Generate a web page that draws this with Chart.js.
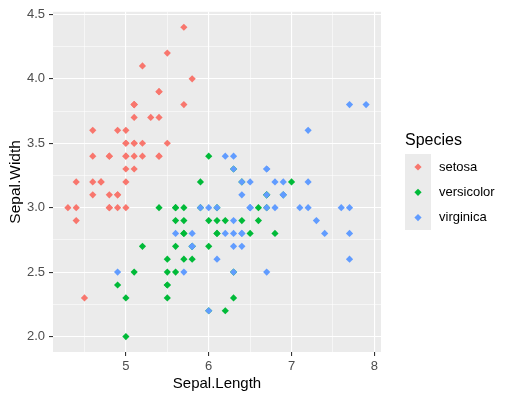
<!DOCTYPE html>
<html>
<head>
<meta charset="utf-8">
<script src="https://cdn.jsdelivr.net/npm/chart.js@4"></script>
<style>
  html, body { margin: 0; padding: 0; background: #ffffff; }
  #wrap { width: 509px; height: 402px; }
</style>
</head>
<body>
<div id="wrap"><canvas id="grafico"></canvas></div>
<script>
// iris: Sepal.Length, Sepal.Width por especie
const especies = ['setosa', 'versicolor', 'virginica'];
const colores = ['#F8766D', '#00BA38', '#619CFF'];

const setosaLength = [5.1,4.9,4.7,4.6,5.0,5.4,4.6,5.0,4.4,4.9,5.4,4.8,4.8,4.3,5.8,5.7,5.4,5.1,5.7,5.1,5.4,5.1,4.6,5.1,4.8,5.0,5.0,5.2,5.2,4.7,4.8,5.4,5.2,5.5,4.9,5.0,5.5,4.9,4.4,5.1,5.0,4.5,4.4,5.0,5.1,4.8,5.1,4.6,5.3,5.0];
const setosaWidth = [3.5,3.0,3.2,3.1,3.6,3.9,3.4,3.4,2.9,3.1,3.7,3.4,3.0,3.0,4.0,4.4,3.9,3.5,3.8,3.8,3.4,3.7,3.6,3.3,3.4,3.0,3.4,3.5,3.4,3.2,3.1,3.4,4.1,4.2,3.1,3.2,3.5,3.6,3.0,3.4,3.5,2.3,3.2,3.5,3.8,3.0,3.8,3.2,3.7,3.3];

const versicolorLength = [7.0,6.4,6.9,5.5,6.5,5.7,6.3,4.9,6.6,5.2,5.0,5.9,6.0,6.1,5.6,6.7,5.6,5.8,6.2,5.6,5.9,6.1,6.3,6.1,6.4,6.6,6.8,6.7,6.0,5.7,5.5,5.5,5.8,6.0,5.4,6.0,6.7,6.3,5.6,5.5,5.5,6.1,5.8,5.0,5.6,5.7,5.7,6.2,5.1,5.7];
const versicolorWidth = [3.2,3.2,3.1,2.3,2.8,2.8,3.3,2.4,2.9,2.7,2.0,3.0,2.2,2.9,2.9,3.1,3.0,2.7,2.2,2.5,3.2,2.8,2.5,2.8,2.9,3.0,2.8,3.0,2.9,2.6,2.4,2.4,2.7,2.7,3.0,3.4,3.1,2.3,3.0,2.5,2.6,3.0,2.6,2.3,2.7,3.0,2.9,2.9,2.5,2.8];

const virginicaLength = [6.3,5.8,7.1,6.3,6.5,7.6,4.9,7.3,6.7,7.2,6.5,6.4,6.8,5.7,5.8,6.4,6.5,7.7,7.7,6.0,6.9,5.6,7.7,6.3,6.7,7.2,6.2,6.1,6.4,7.2,7.4,7.9,6.4,6.3,6.1,7.7,6.3,6.4,6.0,6.9,6.7,6.9,5.8,6.8,6.7,6.7,6.3,6.5,6.2,5.9];
const virginicaWidth = [3.3,2.7,3.0,2.9,3.0,3.0,2.5,2.9,2.5,3.6,3.2,2.7,3.0,2.5,2.8,3.2,3.0,3.8,2.6,2.2,3.2,2.8,2.8,2.7,3.3,3.2,2.8,3.0,2.8,3.0,2.8,3.8,2.8,2.8,2.6,3.0,3.4,3.1,3.0,3.1,3.1,3.1,2.7,3.2,3.3,3.0,2.5,3.0,3.4,3.0];

// ejes
const xMayores = [5, 6, 7, 8];
const xMenores = [4.5, 5.5, 6.5, 7.5];
const yMayores = [2.0, 2.5, 3.0, 3.5, 4.0, 4.5];
const yMenores = [2.25, 2.75, 3.25, 3.75, 4.25];
const xLimites = [4.12, 8.08];
const yLimites = [1.88, 4.52];

const fuente = "'Liberation Sans', Arial, sans-serif";

function puntos(xs, ys) {
    const res = [];
    for (let i = 0; i < xs.length; i++) {
        res.push({x: xs[i], y: ys[i]});
    }
    return res;
}

const series = [
    puntos(setosaLength, setosaWidth),
    puntos(versicolorLength, versicolorWidth),
    puntos(virginicaLength, virginicaWidth)
];

function marcasEje(mayores, menores) {
    return function (scale) {
        const todos = mayores.concat(menores).sort((a, b) => a - b);
        scale.ticks = todos.map(v => ({value: v, major: mayores.indexOf(v) >= 0}));
    };
}

function esMayor(context) {
    return context.tick && context.tick.major;
}

function diamante(ctx, x, y, r, color) {
    ctx.beginPath();
    ctx.moveTo(x, y - r);
    ctx.lineTo(x + r, y);
    ctx.lineTo(x, y + r);
    ctx.lineTo(x - r, y);
    ctx.closePath();
    ctx.fillStyle = color;
    ctx.fill();
}

// fondo gris del panel
const fondoPanel = {
    id: 'fondoPanel',
    beforeDraw(chart) {
        const a = chart.chartArea;
        const ctx = chart.ctx;
        ctx.save();
        ctx.fillStyle = '#EBEBEB';
        ctx.fillRect(a.left, a.top, a.right - a.left, a.bottom - a.top);
        ctx.restore();
    }
};

// leyenda al estilo ggplot
const leyenda = {
    id: 'leyenda',
    afterDraw(chart) {
        const ctx = chart.ctx;
        ctx.save();
        ctx.fillStyle = '#000000';
        ctx.font = '16px ' + fuente;
        ctx.textBaseline = 'middle';
        ctx.textAlign = 'left';
        ctx.fillText('Species', 405, 141);
        ctx.fillStyle = '#EBEBEB';
        ctx.fillRect(405, 154, 26, 76);
        ctx.font = '13px ' + fuente;
        for (let i = 0; i < especies.length; i++) {
            const yc = 167 + i * 25.3;
            diamante(ctx, 418, yc, 3.6, colores[i]);
            ctx.fillStyle = '#000000';
            ctx.fillText(especies[i], 439, yc);
        }
        ctx.restore();
    }
};

const datasets = [];
for (let i = 0; i < especies.length; i++) {
    datasets.push({
        label: especies[i],
        data: series[i],
        order: especies.length - i,
        pointStyle: 'rectRot',
        pointRadius: 3.6,
        pointHoverRadius: 3.6,
        pointBackgroundColor: colores[i],
        pointBorderWidth: 0,
        pointBorderColor: colores[i]
    });
}

const ctx = document.getElementById('grafico');
const grafico = new Chart(ctx, {
    type: 'scatter',
    data: {datasets: datasets},
    plugins: [fondoPanel, leyenda],
    options: {
        responsive: true,
        maintainAspectRatio: false,
        animation: false,
        events: [],
        layout: {padding: {top: 7, right: 128, bottom: 0, left: 0}},
        plugins: {
            legend: {display: false},
            tooltip: {enabled: false}
        },
        scales: {
            x: {
                type: 'linear',
                min: xLimites[0],
                max: xLimites[1],
                afterBuildTicks: marcasEje(xMayores, xMenores),
                afterFit(scale) { scale.height = 50; },
                border: {display: false},
                grid: {
                    color: '#FFFFFF',
                    lineWidth: c => esMayor(c) ? 1.1 : 0.55,
                    tickColor: c => esMayor(c) ? '#333333' : 'rgba(0,0,0,0)',
                    tickLength: 4,
                    tickWidth: 1.1
                },
                ticks: {
                    autoSkip: false,
                    maxRotation: 0,
                    padding: 3,
                    color: '#4D4D4D',
                    font: {family: fuente, size: 13},
                    callback: function (v, i, ticks) {
                        return ticks[i].major ? String(v) : '';
                    }
                },
                title: {
                    display: true,
                    text: 'Sepal.Length',
                    color: '#000000',
                    font: {family: fuente, size: 15},
                    padding: {top: 0, bottom: 9}
                }
            },
            y: {
                type: 'linear',
                min: yLimites[0],
                max: yLimites[1],
                afterBuildTicks: marcasEje(yMayores, yMenores),
                afterFit(scale) { scale.width = 53; },
                border: {display: false},
                grid: {
                    color: '#FFFFFF',
                    lineWidth: c => esMayor(c) ? 1.1 : 0.55,
                    tickColor: c => esMayor(c) ? '#333333' : 'rgba(0,0,0,0)',
                    tickLength: 4,
                    tickWidth: 1.1
                },
                ticks: {
                    autoSkip: false,
                    padding: 4,
                    color: '#4D4D4D',
                    font: {family: fuente, size: 13},
                    callback: function (v, i, ticks) {
                        return ticks[i].major ? v.toFixed(1) : '';
                    }
                },
                title: {
                    display: true,
                    text: 'Sepal.Width',
                    color: '#000000',
                    font: {family: fuente, size: 15.5},
                    padding: {top: 6, bottom: 0}
                }
            }
        }
    }
});
</script>
</body>
</html>
